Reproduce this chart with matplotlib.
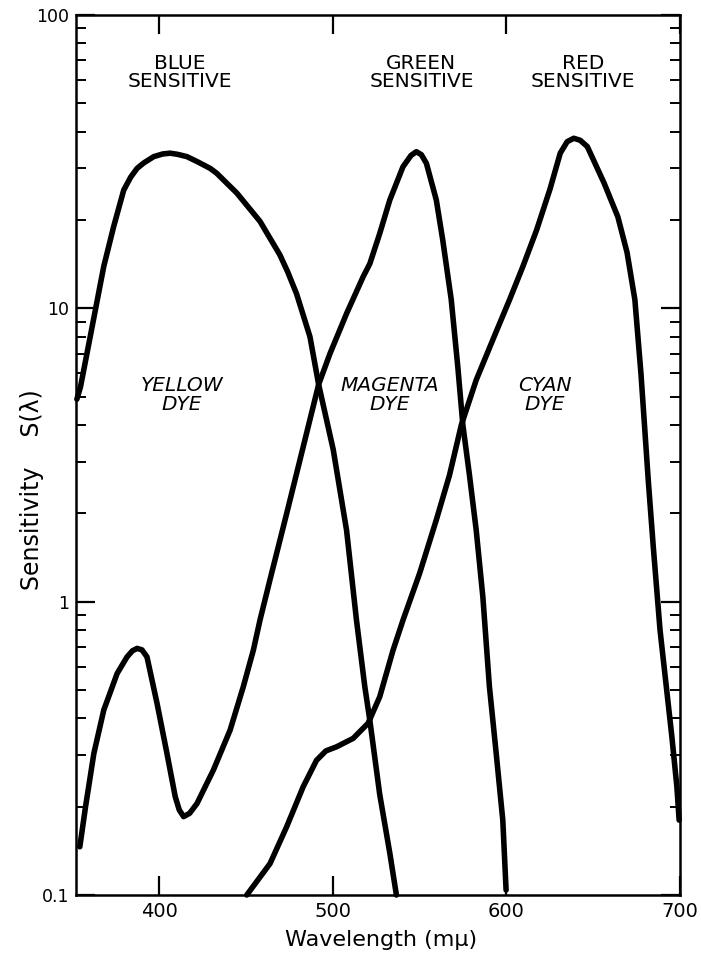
import matplotlib
matplotlib.use("Agg")
import matplotlib.pyplot as plt
from matplotlib.ticker import LogLocator, NullFormatter

# blue-sensitive curve (wavelength in m-mu, sensitivity)
blue_wl = [352.5, 354.6, 363.2, 368, 373.7, 379.5, 383.5, 387.2, 391, 396.8,
           402, 406.3, 410.5, 415.9, 422, 429.3, 433, 444.7, 458, 469.5,
           474, 479.1, 486.8, 491.8, 500.2, 507.9, 513.6,
           518.4, 521.3, 527, 532.8, 536.6]
blue_s = [4.9, 5.4, 9.9, 13.9, 19.0, 25.3, 28.0, 30.0, 31.3, 32.9,
          33.6, 33.8, 33.5, 32.9, 31.6, 30.0, 28.9, 24.7, 19.8, 15.2,
          13.3, 11.2, 8.0, 5.5, 3.3, 1.75, 0.865,
          0.513, 0.394, 0.22, 0.139, 0.1]

# green-sensitive curve
green_wl = [354.2, 357.5, 362.3, 368, 375.7, 381.4, 384.5, 387.2, 390, 392.9,
            398.7, 404.4, 409.2, 411.5, 414, 417.5, 421.7, 431.2, 440.8, 448.4,
            454.2, 458, 463.8, 473.4, 482.9, 491.8, 498.3, 507.9, 517.4, 521.3,
            527, 532.8, 540.4, 545, 548.1, 551, 553.9, 559.6, 563.3, 568.2,
            572, 574.9, 578.7, 582.6, 586.4, 590.2, 594.1, 597.9, 599.8]
green_s = [0.146, 0.2, 0.304, 0.427, 0.569, 0.648, 0.68, 0.693, 0.685, 0.648,
           0.45, 0.304, 0.216, 0.195, 0.185, 0.19, 0.205, 0.267, 0.365, 0.513,
           0.684, 0.865, 1.19, 2.0, 3.37, 5.5, 7.0, 9.6, 12.8, 14.2,
           18.0, 23.4, 30.4, 33.2, 34.2, 33.4, 31.2, 23.4, 17.1, 10.7,
           6.3, 4.0, 2.7, 1.75, 1.04, 0.513, 0.304, 0.18, 0.104]

# red-sensitive curve
red_wl = [450.4, 463.8, 473.4, 482.9, 490.6, 496, 502.1, 511.7, 520.3, 527,
          534.7, 540.4, 550, 559.6, 567.2, 574, 582.6, 594, 601.8, 609.5,
          617.4, 625.1, 631, 635, 638.8, 642.5, 646.6, 656.3, 664.2, 669.5,
          674, 677.5, 681.7, 684.6, 688.5, 695.3, 698.2, 699.5]
red_s = [0.1, 0.128, 0.171, 0.234, 0.288, 0.31, 0.32, 0.342, 0.385, 0.474,
         0.684, 0.865, 1.25, 1.9, 2.7, 4.0, 5.7, 8.3, 10.7, 13.9,
         18.5, 25.5, 33.8, 37.0, 38.0, 37.4, 35.6, 26.7, 20.5, 15.5,
         10.7, 6.0, 2.6, 1.54, 0.8, 0.347, 0.234, 0.18]

x_ticks = [400, 500, 600, 700]
y_ticks = [0.1, 1, 10, 100]
y_tick_labels = ["0.1", "1", "10", "100"]

sens_labels = ["BLUE\nSENSITIVE", "GREEN\nSENSITIVE", "RED\nSENSITIVE"]
sens_x = [412, 551, 644]
dye_labels = ["YELLOW\nDYE", "MAGENTA\nDYE", "CYAN\nDYE"]
dye_x = [413, 533, 622]

fig = plt.figure(figsize=(7.01, 9.56), dpi=100)
ax = fig.add_axes([76 / 701, 1 - 895 / 956, 604 / 701, 880 / 956])
ax.set_yscale("log")
ax.set_xlim(352, 700)
ax.set_ylim(0.1, 100)

for wl, s in [(blue_wl, blue_s), (green_wl, green_s), (red_wl, red_s)]:
    ax.plot(wl, s, color="black", linewidth=4.0, solid_joinstyle="round",
            solid_capstyle="round", clip_on=False)

for sp in ax.spines.values():
    sp.set_linewidth(1.8)

ax.set_xticks(x_ticks)
ax.set_xticklabels([str(t) for t in x_ticks])
ax.set_yticks(y_ticks)
ax.set_yticklabels(y_tick_labels)
ax.yaxis.set_minor_locator(LogLocator(base=10, subs=range(2, 10)))
ax.yaxis.set_minor_formatter(NullFormatter())
ax.tick_params(axis="both", which="major", direction="in", length=14,
               width=1.6, top=True, right=True)
ax.tick_params(axis="y", which="minor", direction="in", length=7,
               width=1.4, right=True)
ax.tick_params(axis="x", labelsize=14, pad=5)
ax.tick_params(axis="y", labelsize=12.5, pad=5)

for lab, x in zip(sens_labels, sens_x):
    ax.text(x, 63.7, lab, ha="center", va="center", fontsize=14.5,
            multialignment="center", linespacing=0.95)
for lab, x in zip(dye_labels, dye_x):
    ax.text(x, 5.06, lab, ha="center", va="center", fontsize=14.5,
            style="italic", multialignment="center", linespacing=0.95)

ax.text(-0.073, 0.461, "Sensitivity    S(\u03bb)", transform=ax.transAxes,
        rotation=90, ha="center", va="center", fontsize=17)
ax.text(0.505, -0.051, "Wavelength (m\u03bc)", transform=ax.transAxes,
        ha="center", va="center", fontsize=16)

fig.savefig("out.png", dpi=100)
